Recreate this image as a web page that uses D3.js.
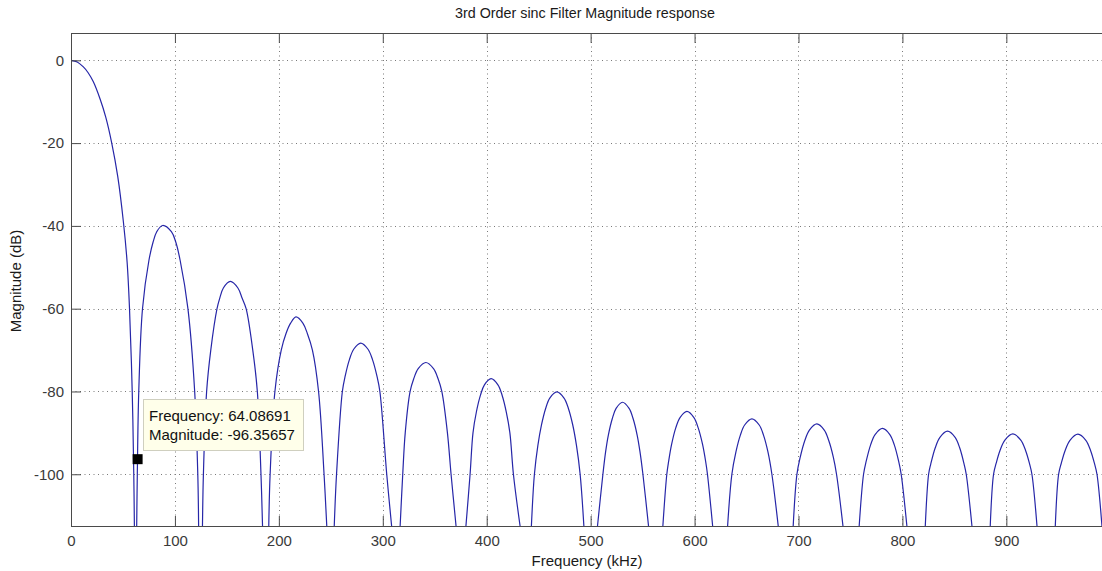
<!DOCTYPE html>
<html>
<head>
<meta charset="utf-8">
<script src="https://cdn.jsdelivr.net/npm/d3@7"></script>
<style>
  html, body { margin: 0; padding: 0; background: #fff; }
  svg { display: block; font-family: "Liberation Sans", Arial, Helvetica, sans-serif; }
</style>
</head>
<body>
<div id="chart"></div>
<script>
// Axis ticks
const xTicks = [0, 100, 200, 300, 400, 500, 600, 700, 800, 900];
const yTicks = [0, -20, -40, -60, -80, -100];

// Main lobe, [kHz, dB]
const mainLobe = [[0, 0], [6, -0.4], [11.9, -1.6], [16.5, -3], [21.5, -5.2], [27.9, -9.3], [33.5, -13.8],
  [39.2, -20], [45, -28.1], [50.4, -39], [54, -48.8], [56.3, -60], [58.9, -80], [60.4, -100], [61, -112.5]];

// Side lobes, one list per lobe, [kHz, dB]
const sideLobes = [
  [[63.2, -112.5], [63.8, -100], [65.2, -80], [68.8, -60], [75, -48.3], [79, -43.9], [82.5, -41.4], [88.2, -39.9],
   [96.6, -41.4], [100.8, -43.9], [105, -48.3], [112.5, -60], [119, -80], [122, -100], [122.8, -112.5]],
  [[126.5, -112.5], [127.4, -100], [130.5, -80], [134.5, -70], [140.5, -60], [143.1, -57.5], [146.6, -55], [153.3, -53.4],
   [160.6, -55], [164.7, -57.5], [168.5, -60], [174.9, -70], [179.3, -80], [182.8, -100], [184.3, -112.5]],
  [[190.3, -112.5], [191.6, -100], [196.2, -80], [202.3, -70], [206.9, -66], [211.3, -63.5], [216.5, -62],
   [223.1, -63.5], [227.4, -66], [232.3, -70], [238.2, -80], [243.5, -100], [246.1, -112.5]],
  [[253.3, -112.5], [255.5, -100], [261.1, -80], [263.8, -76.3], [267.9, -72.3], [272, -69.8], [278.7, -68.3],
   [285.8, -69.8], [290.1, -72.3], [294.4, -76.3], [297.2, -80], [303.8, -100], [308.5, -112.5]],
  [[316.7, -112.5], [319.2, -100], [321.6, -90], [326.3, -80], [329.7, -77], [334.1, -74.5], [341.4, -73],
   [348.8, -74.5], [353.3, -77], [356.8, -80], [362.2, -90], [365.7, -100], [370.5, -112.5]],
  [[380, -112.5], [384, -100], [386.8, -90], [390.1, -84.9], [394, -80.9], [397.8, -78.4], [404.2, -76.9],
   [410.8, -78.4], [414.8, -80.9], [418.8, -84.9], [422.3, -90], [425.7, -100], [432.1, -112.5]],
  [[443, -112.5], [445.9, -100], [449.2, -93.1], [452.7, -88.1], [456.7, -84.1], [460.7, -81.6], [467.4, -80.1],
   [474.4, -81.6], [478.6, -84.1], [482.8, -88.1], [486.4, -93.1], [489.9, -100], [493.5, -112.5]],
  [[506.6, -112.5], [511.8, -100], [514.4, -94.6], [517, -90.6], [520.8, -86.6], [524.5, -84.1], [530.6, -82.6],
   [537, -84.1], [540.9, -86.6], [544.8, -90.6], [547.5, -94.6], [550.3, -100], [555.7, -112.5]],
  [[569.5, -112.5], [573.3, -100], [575.1, -96.8], [577.9, -92.8], [581.9, -88.8], [586, -86.3], [592.6, -84.8],
   [599.4, -86.3], [603.5, -88.8], [607.7, -92.8], [610.6, -96.8], [612.4, -100], [617.4, -112.5]],
  [[631.8, -112.5], [635.9, -100], [639.8, -94.6], [644, -90.6], [648.2, -88.1], [655.2, -86.6],
   [662.2, -88.1], [666.4, -90.6], [670.6, -94.6], [674.4, -100], [680.5, -112.5]],
  [[694.9, -112.5], [698.5, -100], [701.7, -95.85], [706.1, -91.85], [710.5, -89.35], [717.7, -87.85],
   [724.8, -89.35], [729.1, -91.85], [733.5, -95.85], [736.6, -100], [742.8, -112.5]],
  [[758.4, -112.5], [762.6, -100], [765.1, -96.9], [769.4, -92.9], [773.7, -90.4], [780.9, -88.9],
   [787.9, -90.4], [792.2, -92.9], [796.4, -96.9], [798.8, -100], [804.3, -112.5]],
  [[822, -112.5], [825.2, -100], [827.2, -97.6], [831.6, -93.6], [836.1, -91.1], [843.4, -89.6],
   [850.7, -91.1], [855.1, -93.6], [859.4, -97.6], [861.4, -100], [866.9, -112.5]],
  [[884.5, -112.5], [887.7, -100], [890.3, -97.25], [893.9, -94.25], [898.6, -91.75], [906.3, -90.25],
   [913.9, -91.75], [918.5, -94.25], [922.1, -97.25], [924.6, -100], [929.5, -112.5]],
  [[947.1, -112.5], [950.3, -100], [952.9, -97.3], [956.5, -94.3], [961.2, -91.8], [968.9, -90.3],
   [976.5, -91.8], [981.1, -94.3], [984.7, -97.3], [987.2, -100], [992, -112.5]]
];

// Data cursor
const cursorFreq = 64.08691;
const cursorMag = -96.35657;

const width = 1102, height = 571;
const plotL = 71, plotT = 33, plotR = 1103, plotB = 526;

const svg = d3.select("#chart")
  .append("svg")
  .attr("width", width)
  .attr("height", height);

svg.append("rect").attr("width", width).attr("height", height).attr("fill", "#fff");

const x = d3.scaleLinear().domain([0, 993]).range([plotL, plotR]);
const y = d3.scaleLinear().domain([-112.5, 6.6]).range([plotB, plotT]);

svg.append("defs").append("clipPath").attr("id", "plot")
  .append("rect").attr("x", plotL).attr("y", plotT).attr("width", plotR - plotL).attr("height", plotB - plotT);

// Dotted grid
const grid = svg.append("g").attr("stroke", "#7a7a7a").attr("stroke-dasharray", "1,3.5").attr("stroke-width", 1);
grid.selectAll(".gx").data(xTicks.slice(1)).enter().append("line")
  .attr("x1", d => Math.round(x(d)) + 0.5).attr("x2", d => Math.round(x(d)) + 0.5)
  .attr("y1", plotT).attr("y2", plotB);
grid.selectAll(".gy").data(yTicks).enter().append("line")
  .attr("x1", plotL).attr("x2", plotR)
  .attr("y1", d => Math.round(y(d)) + 0.5).attr("y2", d => Math.round(y(d)) + 0.5);

// Response curve
const line = d3.line().x(d => x(d[0])).y(d => y(d[1])).curve(d3.curveCatmullRom.alpha(0.5));
svg.append("g").attr("clip-path", "url(#plot)")
  .selectAll("path")
  .data([mainLobe].concat(sideLobes))
  .enter()
  .append("path")
  .attr("d", line)
  .attr("fill", "none")
  .attr("stroke", "#2626a8")
  .attr("stroke-width", 1.2);

// Axes (ticks pointing inwards)
const axisColor = "#4a4a4a";
const fmt = d => String(d);
const xAxis = svg.append("g").attr("transform", `translate(0,${plotB})`)
  .call(d3.axisBottom(x).tickValues(xTicks).tickSize(-10).tickPadding(9.5).tickFormat(fmt));
const xTop = svg.append("g").attr("transform", `translate(0,${plotT})`)
  .call(d3.axisTop(x).tickValues(xTicks).tickSize(-10).tickFormat(""));
const yAxis = svg.append("g").attr("transform", `translate(${plotL},0)`)
  .call(d3.axisLeft(y).tickValues(yTicks).tickSize(-10).tickPadding(7).tickFormat(fmt));

[xAxis, xTop, yAxis].forEach(g => {
  g.select(".domain").remove();
  g.selectAll(".tick line").attr("stroke", axisColor);
  g.selectAll("text").attr("fill", "#3a3a3a")
    .style("font-size", "15px").style("font-family", "'Liberation Sans', Arial, sans-serif");
});

// Axes box
svg.append("rect")
  .attr("x", plotL + 0.5).attr("y", plotT + 0.5)
  .attr("width", plotR - plotL).attr("height", plotB - plotT)
  .attr("fill", "none").attr("stroke", axisColor).attr("stroke-width", 1);

// Title and labels
svg.append("text")
  .attr("x", 585).attr("y", 18)
  .attr("text-anchor", "middle")
  .style("font-size", "14.3px").attr("fill", "#1a1a1a")
  .text("3rd Order sinc Filter Magnitude response");

svg.append("text")
  .attr("x", 587).attr("y", 566)
  .attr("text-anchor", "middle")
  .style("font-size", "15px").attr("fill", "#1a1a1a")
  .text("Frequency (kHz)");

svg.append("text")
  .attr("transform", "translate(21,281) rotate(-90)")
  .attr("text-anchor", "middle")
  .style("font-size", "15px").attr("fill", "#1a1a1a")
  .text("Magnitude (dB)");

// Data tip
const cx = x(cursorFreq), cy = y(cursorMag);
svg.append("rect")
  .attr("x", cx - 5).attr("y", cy - 5)
  .attr("width", 10).attr("height", 10)
  .attr("fill", "#000");

const tip = svg.append("g");
tip.append("rect")
  .attr("x", 143.5).attr("y", 399.5)
  .attr("width", 160).attr("height", 51)
  .attr("fill", "#ffffea").attr("stroke", "#cfcfbf");
tip.append("text").attr("x", 149).attr("y", 420.5)
  .style("font-size", "15px").attr("fill", "#111")
  .text(`Frequency: ${cursorFreq}`);
tip.append("text").attr("x", 149).attr("y", 439.5)
  .style("font-size", "15px").attr("fill", "#111")
  .text(`Magnitude: ${cursorMag}`);
</script>
</body>
</html>
